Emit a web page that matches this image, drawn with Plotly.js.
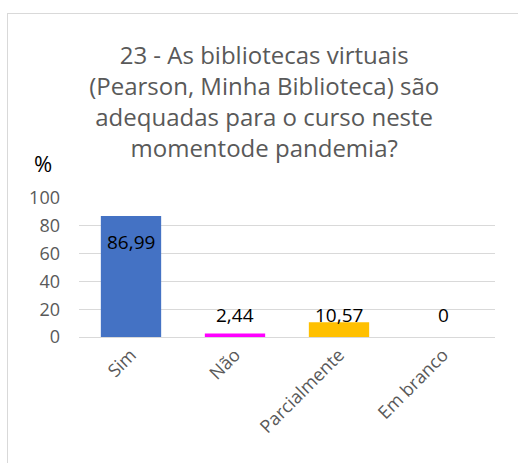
<!DOCTYPE html>
<html>
<head>
<meta charset="utf-8">
<script src="https://cdn.plot.ly/plotly-3.0.1.min.js"></script>
<style>
  body { margin: 0; background: #fff; overflow: hidden; }
  #wrap { position: relative; width: 518px; height: 463px; }
  #frame { position: absolute; left: 7px; top: 13px; width: 530px; height: 470px;
           border: 1px solid #d9d9d9; pointer-events: none; }
</style>
</head>
<body>
<div id="wrap">
  <div id="plot"></div>
  <div id="frame"></div>
</div>
<script>
// chart data
const categories = ['Sim', 'Não', 'Parcialmente', 'Em branco'];
const percents = [86.99, 2.44, 10.57, 0];
const barColors = ['#4472C4', '#FF00FF', '#FFC000', '#A5A5A5'];
const yTicks = [0, 20, 40, 60, 80, 100];

const font = '"Open Sans", "DejaVu Sans", sans-serif';

// value labels, written with a decimal comma like the original
const labels = percents.map((v, i) => ({
    x: categories[i],
    y: v > 50 ? v : 16,
    yshift: v > 50 ? -26 : 0,
    text: String(v).replace('.', ','),
    showarrow: false,
    yanchor: 'middle',
    font: { family: font, size: 19, color: '#000000' }
}));

// the "%" unit above the value axis
labels.push({
    xref: 'paper', yref: 'paper',
    x: -0.087, y: 1.25,
    xanchor: 'center', yanchor: 'middle',
    text: '%', showarrow: false,
    font: { family: font, size: 22, color: '#000000' }
});

const trace = {
    type: 'bar',
    x: categories,
    y: percents,
    marker: { color: barColors },
    hoverinfo: 'x+y'
};

const layout = {
    width: 518,
    height: 463,
    margin: { l: 79, r: 23, t: 198, b: 126 },
    paper_bgcolor: '#ffffff',
    plot_bgcolor: '#ffffff',
    showlegend: false,
    bargap: 0.42,
    title: {
        text: '23 - As bibliotecas virtuais<br>(Pearson, Minha Biblioteca) são<br>adequadas para o curso neste<br>momentode pandemia?',
        font: { family: font, size: 24, color: '#595959' },
        xref: 'container', x: 0.51,
        yref: 'container', y: 0.862, yanchor: 'top'
    },
    xaxis: {
        tickangle: -45,
        tickfont: { family: font, size: 18, color: '#595959' },
        showline: false,
        ticks: '',
        ticklabelstandoff: 3
    },
    yaxis: {
        range: [0, 100],
        tickvals: yTicks,
        tickfont: { family: font, size: 18, color: '#595959' },
        gridcolor: '#d9d9d9',
        gridwidth: 1,
        zeroline: true,
        zerolinecolor: '#d9d9d9',
        ticks: '',
        ticklabelstandoff: 18
    },
    annotations: labels
};

Plotly.newPlot('plot', [trace], layout, { displayModeBar: false, staticPlot: true });
</script>
</body>
</html>
